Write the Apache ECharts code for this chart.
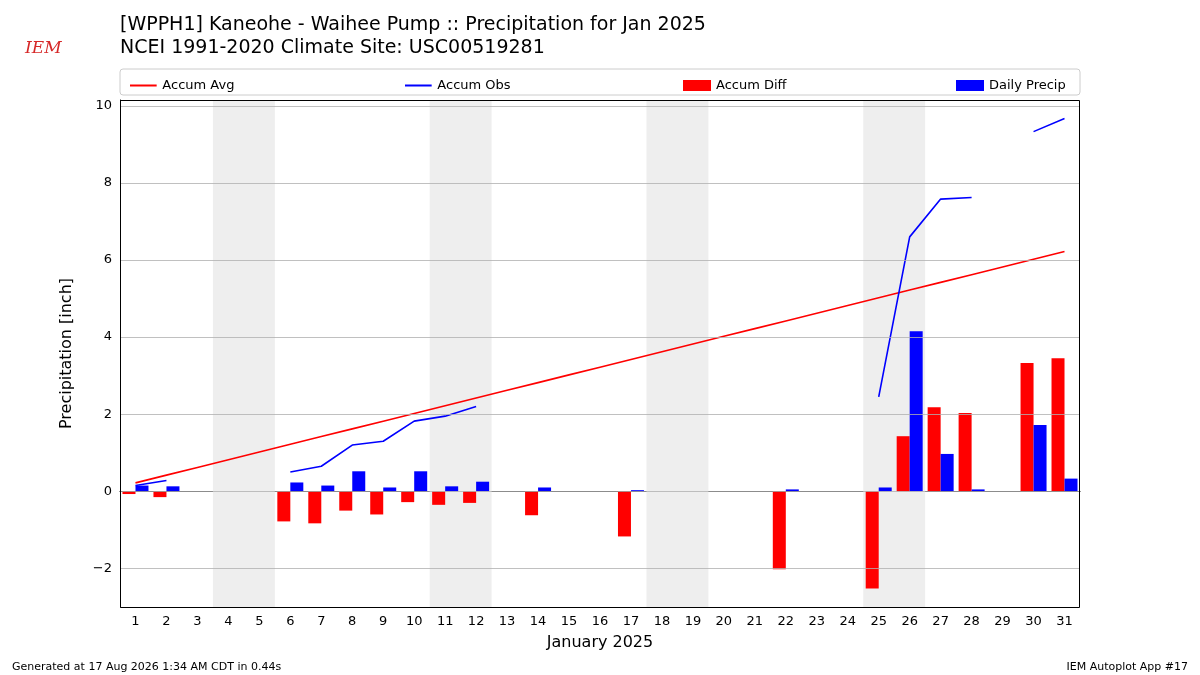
<!DOCTYPE html>
<html><head><meta charset="utf-8">
<script src="https://cdn.jsdelivr.net/npm/echarts@6/dist/echarts.min.js"></script>
<style>html,body{margin:0;background:#fff}#c{width:1200px;height:675px}</style>
</head><body><div id="c"></div>
<script>
var days = [];
for (var d = 1; d <= 31; d++) days.push(String(d));
var accumAvg = [0.22,0.42,0.62,0.82,1.02,1.22,1.42,1.62,1.82,2.02,2.22,2.42,2.62,2.82,3.02,3.22,3.42,3.62,3.82,4.02,4.22,4.42,4.62,4.82,5.02,5.22,5.42,5.62,5.82,6.02,6.22];
var accumObs = [0.15,0.28,null,null,null,0.5,0.65,1.2,1.3,1.82,1.95,2.2,null,null,null,null,null,null,null,null,null,null,null,null,2.45,6.6,7.58,7.62,null,9.33,9.67];
var accumDiff = [-0.07,-0.15,null,null,null,-0.78,-0.83,-0.5,-0.6,-0.28,-0.35,-0.3,null,-0.62,null,null,-1.17,null,null,null,null,-2.02,null,null,-2.52,1.43,2.18,2.03,null,3.33,3.45];
var dailyPrecip = [0.15,0.13,null,null,null,0.23,0.15,0.52,0.1,0.52,0.13,0.25,null,0.1,null,null,0.03,null,null,null,null,0.05,null,null,0.1,4.15,0.97,0.05,null,1.72,0.33];
var weekends = [[3.5,5.5],[10.5,12.5],[17.5,19.5],[24.5,26.5]];
var gridVals = [-2,0,2,4,6,8,10];

var chart = echarts.init(document.getElementById('c'));
var font = 'DejaVu Sans';
function lg(name, left, isBar) {
  return {data:[{name:name, icon:isBar ? 'rect' : 'path://M0,0L20,0L20,1.5L0,1.5Z'}], left:left, top:74,
    itemWidth:28, itemHeight:isBar?11:2, itemGap:6,
    textStyle:{fontFamily:font, fontSize:13, color:'#000'}};
}
chart.setOption({
  animation:false,
  textStyle:{fontFamily:font},
  title:[
    {text:'[WPPH1] Kaneohe - Waihee Pump :: Precipitation for Jan 2025\nNCEI 1991-2020 Climate Site: USC00519281',
     left:115, top:9, textStyle:{fontFamily:font, fontSize:19, fontWeight:'normal', color:'#000', lineHeight:23}},
    {text:'IEM', left:20, top:35, textStyle:{fontFamily:'DejaVu Serif', fontSize:17, fontStyle:'italic', fontWeight:'normal', color:'#d62828'}},
    {text:'Generated at 17 Aug 2026 1:34 AM CDT in 0.44s', left:7, top:657, textStyle:{fontSize:11, fontWeight:'normal', color:'#000'}},
    {text:'IEM Autoplot App #17', right:7, top:657, textStyle:{fontSize:11, fontWeight:'normal', color:'#000'}}
  ],
  graphic:[
    {type:'rect', shape:{x:120, y:69, width:960, height:26, r:3}, style:{fill:'#fff', stroke:'#ccc', lineWidth:1}, z:0},
    {type:'rect', shape:{x:120.5, y:100.5, width:959, height:507}, style:{fill:'none', stroke:'#000', lineWidth:1}, z:100}
  ],
  legend:[lg('Accum Avg',125,false), lg('Accum Obs',400,false), lg('Accum Diff',678,true), lg('Daily Precip',951,true)],
  grid:{left:120, right:120, top:100, bottom:68},
  xAxis:[{type:'category', data:days, boundaryGap:true,
    name:'January 2025', nameLocation:'middle', nameGap:28, nameTextStyle:{fontSize:16, color:'#000'},
    axisLine:{lineStyle:{color:'#000'}}, axisTick:{alignWithLabel:true, lineStyle:{color:'#000'}},
    axisLabel:{color:'#000', fontSize:13, interval:0}},
    {type:'value', min:0.5, max:31.5, show:false}],
  yAxis:{type:'value', min:-3, max:10.15, interval:1,
    name:'Precipitation [inch]', nameLocation:'middle', nameGap:45, nameTextStyle:{fontSize:16, color:'#000'},
    axisLine:{show:true, lineStyle:{color:'#000'}}, axisTick:{show:false}, splitLine:{show:false},
    axisLabel:{color:'#000', fontSize:13, formatter:function(v){return v%2===0 ? String(v).replace('-','\u2212') : '';}}},
  series:[
    {name:'bg', type:'line', xAxisIndex:1, data:[], z:0,
     markArea:{silent:true, itemStyle:{color:'#eeeeee'}, data:weekends.map(function(w){return [{xAxis:w[0]},{xAxis:w[1]}];})},
     markLine:{silent:true, symbol:'none', label:{show:false}, lineStyle:{color:'#b0b0b0', type:'solid', width:0.8}, data:gridVals.map(function(v){return {yAxis:v};})}},
    {name:'Accum Avg', type:'line', data:accumAvg, symbol:'none', itemStyle:{color:'#ff0000'}, lineStyle:{color:'#ff0000', width:1.6}, z:3},
    {name:'Accum Obs', type:'line', data:accumObs, symbol:'none', connectNulls:false, itemStyle:{color:'#0000ff'}, lineStyle:{color:'#0000ff', width:1.6}, z:3},
    {name:'Accum Diff', type:'bar', data:accumDiff, barWidth:13, barGap:'0%', itemStyle:{color:'#ff0000'}},
    {name:'Daily Precip', type:'bar', data:dailyPrecip, barWidth:13, barGap:'0%', itemStyle:{color:'#0000ff'}}
  ]
});
</script></body></html>
